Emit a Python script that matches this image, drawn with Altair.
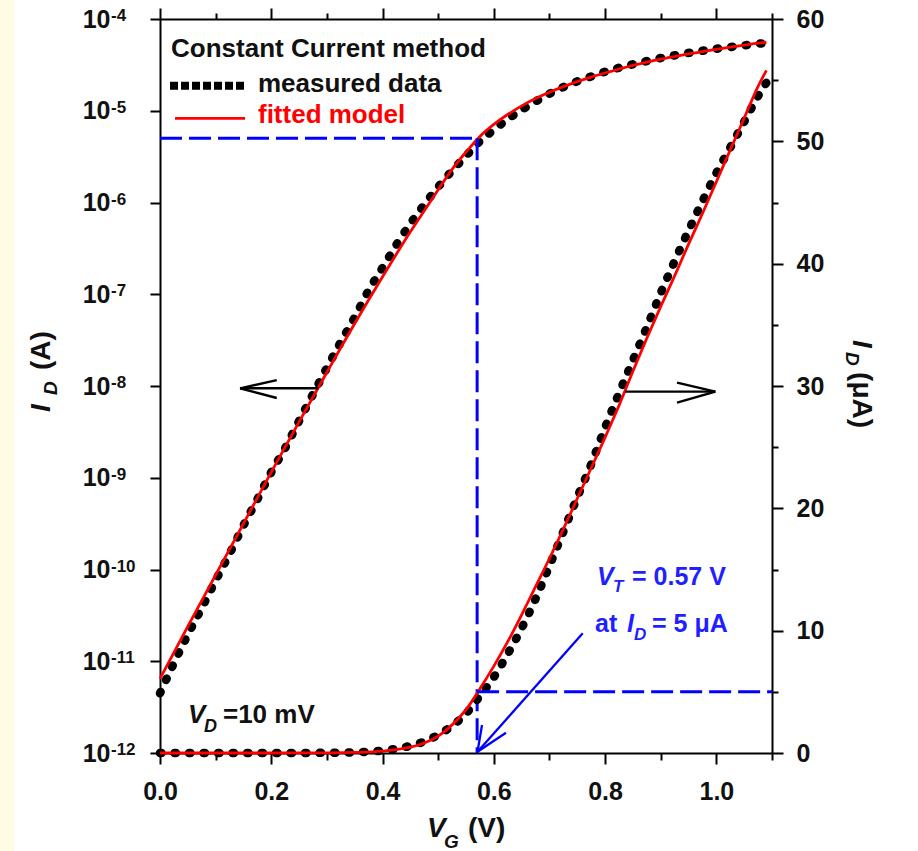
import altair as alt
import pandas as pd

# ---------------- data ----------------
# measured drain current (A) vs gate voltage (V)
vg_meas = [0.000, 0.025, 0.050, 0.075, 0.100, 0.125, 0.150, 0.175, 0.200, 0.225,
           0.250, 0.275, 0.300, 0.325, 0.350, 0.375, 0.400, 0.425, 0.450, 0.475,
           0.500, 0.525, 0.550, 0.575, 0.600, 0.625, 0.650, 0.675, 0.700, 0.725,
           0.750, 0.775, 0.800, 0.825, 0.850, 0.875, 0.900, 0.925, 0.950, 0.975,
           1.000, 1.025, 1.050, 1.075, 1.090]
id_meas_A = [4.47e-12, 9.55e-12, 1.95e-11, 3.80e-11, 7.59e-11, 1.48e-10, 3.02e-10, 5.82e-10, 1.15e-9, 2.11e-9,
             4.17e-9, 8.13e-9, 1.58e-8, 3.02e-8, 5.62e-8, 1.10e-7, 1.95e-7, 3.47e-7, 5.89e-7, 9.5e-7,
             1.48e-6, 2.22e-6, 3.22e-6, 4.65e-6, 6.2e-6, 8.1e-6, 1.02e-5, 1.26e-5, 1.53e-5, 1.81e-5,
             2.09e-5, 2.36e-5, 2.66e-5, 2.94e-5, 3.21e-5, 3.48e-5, 3.76e-5, 4.02e-5, 4.27e-5, 4.51e-5,
             4.74e-5, 4.95e-5, 5.16e-5, 5.37e-5, 5.48e-5]

# fitted model (A)
vg_fit = [0.00, 0.05, 0.10, 0.15, 0.20, 0.25, 0.30, 0.35, 0.40, 0.45,
          0.475, 0.500, 0.525, 0.550, 0.575, 0.600, 0.625, 0.650, 0.675, 0.700,
          0.725, 0.750, 0.775, 0.800, 0.825, 0.850, 0.875, 0.900, 0.925, 0.950,
          0.975, 1.000, 1.025, 1.050, 1.075, 1.090]
id_fit_A = [6.46e-12, 2.40e-11, 8.71e-11, 3.16e-10, 1.15e-9, 4.07e-9, 1.41e-8, 4.79e-8, 1.55e-7, 4.79e-7,
            8.13e-7, 1.38e-6, 2.30e-6, 3.55e-6, 5.25e-6, 7.1e-6, 9.1e-6, 1.13e-5, 1.36e-5, 1.59e-5,
            1.83e-5, 2.08e-5, 2.33e-5, 2.58e-5, 2.84e-5, 3.12e-5, 3.39e-5, 3.65e-5, 3.90e-5, 4.16e-5,
            4.41e-5, 4.67e-5, 4.93e-5, 5.19e-5, 5.45e-5, 5.58e-5]

VT = 0.57          # threshold voltage (V)
ID_CC_A = 5e-6     # constant-current criterion (A)
ID_CC_uA = 5.0

# tick values / labels
x_tick_values = [0.0, 0.1, 0.2, 0.3, 0.4, 0.5, 0.6, 0.7, 0.8, 0.9, 1.0, 1.1]
left_tick_values = [1e-4, 1e-5, 1e-6, 1e-7, 1e-8, 1e-9, 1e-10, 1e-11, 1e-12]
left_tick_exps = ["-4", "-5", "-6", "-7", "-8", "-9", "-10", "-11", "-12"]
right_tick_values = [0, 5, 10, 15, 20, 25, 30, 35, 40, 45, 50, 55, 60]

# ---------------- styling ----------------
FONT = "Liberation Sans"
INK = "#111111"
BLUE_LINE = "#0000FF"
BLUE_TXT = "#1f1fff"
RED = "#FF0000"

meas = pd.DataFrame({"VG": vg_meas, "ID": id_meas_A})
meas["uA"] = meas["ID"] * 1e6
fit = pd.DataFrame({"VG": vg_fit, "ID": id_fit_A})
fit["uA"] = fit["ID"] * 1e6

xs = alt.Scale(domain=[0, 1.1], nice=False, zero=False)
ys_log = alt.Scale(type="log", domain=[1e-12, 1e-4], nice=False)
ys_lin = alt.Scale(domain=[0, 60], nice=False, zero=False)

common_axis = dict(domainColor="black", domainWidth=2, tickColor="black", tickWidth=2,
                   grid=False, title=None, labelFont=FONT, labelFontSize=25,
                   labelFontWeight="bold", labelColor=INK, labelFlush=False,
                   labelOverlap=False, labelBound=False)

MAJ_X = "round(datum.value*10) % 2 == 0"
ax_bottom = alt.Axis(orient="bottom", values=x_tick_values,
                     labelExpr=f"{MAJ_X} ? format(datum.value, '.1f') : ''",
                     tickSize={"condition": {"test": MAJ_X, "value": 11}, "value": 7},
                     labelPadding=15, **common_axis)
ax_top = alt.Axis(orient="top", values=x_tick_values, labels=False,
                  tickSize={"condition": {"test": MAJ_X, "value": 11}, "value": 6},
                  **common_axis)
ax_left = alt.Axis(orient="left", values=left_tick_values, labelExpr="'10'",
                   tickSize=10, labelPadding=40, **common_axis)
MAJ_R = "datum.value % 10 == 0"
ax_right = alt.Axis(orient="right", values=right_tick_values,
                    labelExpr=f"{MAJ_R} ? datum.label : ''",
                    tickSize={"condition": {"test": MAJ_R, "value": 11}, "value": 6},
                    labelPadding=13, **common_axis)

x_bot = alt.X("VG:Q", scale=xs, axis=ax_bottom)
y_log = alt.Y("ID:Q", scale=ys_log, axis=ax_left)
x_top = alt.X("VG:Q", scale=xs, axis=ax_top)
y_lin = alt.Y("uA:Q", scale=ys_lin, axis=ax_right)

DOTS = dict(color="black", strokeWidth=8.5, strokeDash=[1.5, 13], strokeCap="round",
            interpolate="monotone")

# ---------------- log (left axis) layer ----------------
meas_log = alt.Chart(meas).mark_line(**DOTS).encode(x=x_bot, y=y_log)
fit_log = alt.Chart(fit).mark_line(color=RED, strokeWidth=2.8,
                                   interpolate="monotone").encode(x=x_bot, y=y_log)

blue_log = pd.DataFrame({"VG": [0.0, VT], "VG2": [VT, VT],
                         "ID": [ID_CC_A, ID_CC_A], "ID2": [ID_CC_A, 1e-12]})
blue_log_rules = alt.Chart(blue_log).mark_rule(color=BLUE_LINE, strokeWidth=3,
                                               strokeDash=[22, 7]).encode(
    x=x_bot, x2=alt.X2("VG2:Q"), y=y_log, y2=alt.Y2("ID2:Q"))

# left-pointing arrow (annotation, in data units)
arrow_left = pd.DataFrame({"VG": [0.2847, 0.1439, 0.1439], "VG2": [0.1439, 0.2099, 0.2099],
                           "ID": [9.44e-9, 9.44e-9, 9.44e-9], "ID2": [9.44e-9, 1.16e-8, 7.40e-9]})
arrow_log = alt.Chart(arrow_left).mark_rule(color="black", strokeWidth=2.4).encode(
    x=x_bot, x2=alt.X2("VG2:Q"), y=y_log, y2=alt.Y2("ID2:Q"))

exp_df = pd.DataFrame({"ID": left_tick_values, "txt": left_tick_exps, "VG": [-0.0881] * len(left_tick_values)})
exp_text = alt.Chart(exp_df).mark_text(align="left", baseline="alphabetic", dy=2, font=FONT,
                                       fontWeight="bold", fontSize=17, color=INK).encode(
    x=x_bot, y=y_log, text="txt:N")

log_layer = alt.layer(meas_log, fit_log, blue_log_rules, arrow_log, exp_text)

# ---------------- linear (right axis) layer ----------------
strip = alt.Chart(pd.DataFrame({"a": [0]})).mark_rect(color="#FEFCE4").encode(
    x=alt.value(-160), x2=alt.value(-146), y=alt.value(-19), y2=alt.value(832))

meas_lin = alt.Chart(meas).mark_line(**DOTS).encode(x=x_top, y=y_lin)
fit_lin = alt.Chart(fit).mark_line(color=RED, strokeWidth=2.8,
                                   interpolate="monotone").encode(x=x_top, y=y_lin)

blue_lin = pd.DataFrame({"VG": [VT], "VG2": [1.1], "uA": [ID_CC_uA]})
blue_lin_rule = alt.Chart(blue_lin).mark_rule(color=BLUE_LINE, strokeWidth=3,
                                              strokeDash=[22, 7]).encode(
    x=x_top, x2=alt.X2("VG2:Q"), y=y_lin)

arrow_right = pd.DataFrame({"VG": [0.8363, 0.9982, 0.9982], "VG2": [0.9982, 0.9293, 0.9293],
                            "uA": [29.54, 29.54, 29.54], "uA2": [29.54, 30.27, 28.64]})
arrow_r = alt.Chart(arrow_right).mark_rule(color="black", strokeWidth=2.4).encode(
    x=x_top, x2=alt.X2("VG2:Q"), y=y_lin, y2=alt.Y2("uA2:Q"))

arrow_blue = pd.DataFrame({"VG": [0.7598, 0.5707, 0.5707], "VG2": [0.5707, 0.6219, 0.5788],
                           "uA": [9.785, 0.106, 0.106], "uA2": [0.106, 1.66, 2.29]})
arrow_b = alt.Chart(arrow_blue).mark_rule(color=BLUE_LINE, strokeWidth=2.3).encode(
    x=x_top, x2=alt.X2("VG2:Q"), y=y_lin, y2=alt.Y2("uA2:Q"))

# legend samples
leg_meas = alt.Chart(pd.DataFrame({"VG": [0.0180], "VG2": [0.1564], "uA": [54.55]})).mark_rule(
    color="black", strokeWidth=8, strokeDash=[8, 3], strokeCap="butt").encode(
    x=x_top, x2=alt.X2("VG2:Q"), y=y_lin)
leg_fit = alt.Chart(pd.DataFrame({"VG": [0.0270], "VG2": [0.1528], "uA": [51.88]})).mark_rule(
    color=RED, strokeWidth=2.8).encode(x=x_top, x2=alt.X2("VG2:Q"), y=y_lin)

ann = pd.DataFrame([
    ("Constant Current method", 0.0198, 56.90, 26, INK, 0, False),
    ("measured data", 0.1761, 54.01, 26, INK, 0, False),
    ("fitted model", 0.1761, 51.50, 26, RED, 0, False),
    ("V", 0.0503, 2.45, 26, INK, 0, True),
    ("D", 0.0791, 1.72, 18, INK, 0, True),
    ("=10 mV", 0.1132, 2.45, 26, INK, 0, False),
    ("V", 0.7855, 13.73, 25, BLUE_TXT, 0, True),
    ("T", 0.8142, 13.16, 17, BLUE_TXT, 0, True),
    ("= 0.57 V", 0.8484, 13.73, 25, BLUE_TXT, 0, False),
    ("at", 0.7819, 9.89, 25, BLUE_TXT, 0, False),
    ("I", 0.8394, 9.89, 25, BLUE_TXT, 0, True),
    ("D", 0.8520, 9.24, 17, BLUE_TXT, 0, True),
    ("= 5 μA", 0.8843, 9.89, 25, BLUE_TXT, 0, False),
    ("V", 0.4799, -6.87, 28, INK, 0, True),
    ("G", 0.5105, -7.77, 19, INK, 0, True),
    ("(V)", 0.5536, -6.87, 28, INK, 0, False),
    ("I", -0.1977, 27.88, 28, INK, 270, True),
    ("D", -0.1851, 29.26, 19, INK, 270, True),
    ("(A)", -0.1977, 31.30, 28, INK, 270, False),
    ("I", 1.2456, 33.76, 28, INK, 90, True),
    ("D", 1.2330, 32.78, 19, INK, 90, True),
    ("(μA)", 1.2456, 31.14, 28, INK, 90, False),
], columns=["text", "VG", "uA", "size", "color", "angle", "italic"])


def text_layer(df, style):
    return alt.Chart(df).mark_text(align="left", baseline="alphabetic", font=FONT,
                                   fontWeight="bold", fontStyle=style).encode(
        x=x_top, y=y_lin, text="text:N",
        size=alt.Size("size:Q", scale=None),
        color=alt.Color("color:N", scale=None),
        angle=alt.Angle("angle:Q", scale=None))


txt_norm = text_layer(ann[~ann["italic"]], "normal")
txt_ital = text_layer(ann[ann["italic"]], "italic")

lin_layer = alt.layer(strip, meas_lin, fit_lin, blue_lin_rule, arrow_r, arrow_b,
                      leg_meas, leg_fit, txt_norm, txt_ital)

chart = alt.layer(log_layer, lin_layer).resolve_scale(
    y="independent").resolve_axis(x="independent", y="independent").properties(
    width=612, height=734,
    padding={"left": 160, "top": 19, "right": 146, "bottom": 98},
    autosize=alt.AutoSizeParams(type="none"),
    background="white",
).configure_view(stroke=None)

chart.save("out.html", embed_options={"renderer": "svg", "actions": False})
